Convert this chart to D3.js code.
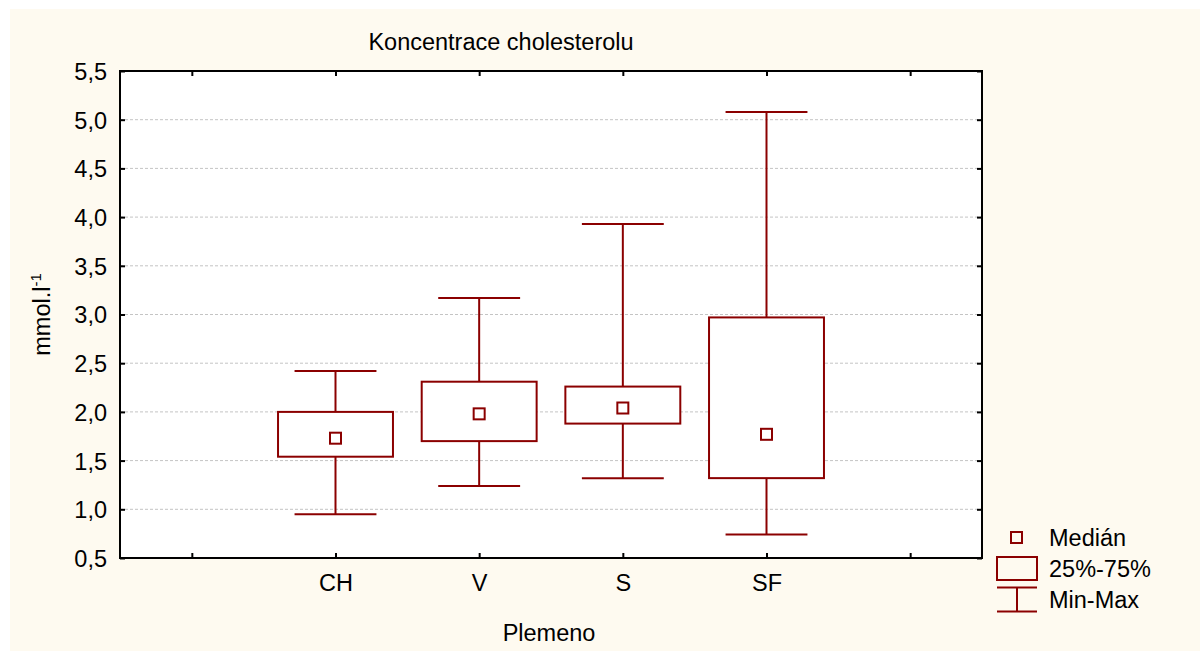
<!DOCTYPE html>
<html>
<head>
<meta charset="utf-8">
<script src="https://cdn.jsdelivr.net/npm/d3@7"></script>
<style>
  html, body { margin: 0; padding: 0; background: #ffffff; }
  svg { display: block; font-family: Arial, "Liberation Sans", sans-serif; }
</style>
</head>
<body>
<svg id="chart" width="1200" height="651"></svg>
<script>
// Cholesterol concentration by breed: min, quartiles, median, max (mmol/l)
const slots   = ["", "CH", "V", "S", "SF", ""];
const groups  = ["CH", "V", "S", "SF"];
const minVals = [0.95, 1.24, 1.32, 0.74];
const q1Vals  = [1.54, 1.70, 1.88, 1.32];
const medVals = [1.73, 1.98, 2.04, 1.77];
const q3Vals  = [2.00, 2.31, 2.26, 2.97];
const maxVals = [2.42, 3.17, 3.93, 5.08];
const yTicks  = [0.5, 1.0, 1.5, 2.0, 2.5, 3.0, 3.5, 4.0, 4.5, 5.0, 5.5];

const color = "#8b0000";
const svg = d3.select("#chart");

// panel background
svg.append("rect").attr("x", 10).attr("y", 9).attr("width", 1190).attr("height", 642)
  .attr("fill", "#fefaf0");

const plot = { left: 120, top: 71, right: 982, bottom: 558 };

const x = d3.scalePoint()
  .domain(d3.range(slots.length))
  .range([plot.left, plot.right])
  .padding(0.5);
const step = x.step();

const y = d3.scaleLinear().domain([0.5, 5.5]).range([plot.bottom, plot.top]);

svg.append("rect")
  .attr("x", plot.left).attr("y", plot.top)
  .attr("width", plot.right - plot.left).attr("height", plot.bottom - plot.top)
  .attr("fill", "#ffffff");

// dotted grid
svg.append("g").selectAll("line")
  .data(yTicks.filter(v => v > 0.5 && v < 5.5))
  .join("line")
  .attr("x1", plot.left).attr("x2", plot.right)
  .attr("y1", d => y(d)).attr("y2", d => y(d))
  .attr("stroke", "#c4c4c4").attr("stroke-width", 1)
  .attr("stroke-dasharray", "3,2");

const fmt = d => d3.format(".1f")(d).replace(".", ",");
const fontSize = 23.5;

// axes (ticks point inward)
const gLeft = svg.append("g").attr("transform", `translate(${plot.left},0)`)
  .call(d3.axisLeft(y).tickValues(yTicks).tickFormat(fmt).tickSizeInner(-5).tickSizeOuter(0).tickPadding(13));
const gRight = svg.append("g").attr("transform", `translate(${plot.right},0)`)
  .call(d3.axisRight(y).tickValues(yTicks).tickFormat("").tickSizeInner(-5).tickSizeOuter(0));
const gBottom = svg.append("g").attr("transform", `translate(0,${plot.bottom})`)
  .call(d3.axisBottom(x).tickFormat(i => slots[i]).tickSizeInner(-5).tickSizeOuter(0).tickPadding(16));
const gTop = svg.append("g").attr("transform", `translate(0,${plot.top})`)
  .call(d3.axisTop(x).tickFormat("").tickSizeInner(-5).tickSizeOuter(0));

[gLeft, gRight, gBottom, gTop].forEach(g => {
  g.select(".domain").remove();
  g.selectAll(".tick line").attr("stroke", "#000").attr("stroke-width", 2);
  g.selectAll(".tick text").attr("fill", "#000").attr("font-size", fontSize)
    .attr("font-family", "Arial, 'Liberation Sans', sans-serif");
});
gLeft.selectAll(".tick text").attr("dy", "0.36em");
gBottom.selectAll(".tick text").attr("dy", "0.71em");

// frame
svg.append("rect")
  .attr("x", plot.left).attr("y", plot.top)
  .attr("width", plot.right - plot.left).attr("height", plot.bottom - plot.top)
  .attr("fill", "none").attr("stroke", "#000").attr("stroke-width", 2);

// box plots
const boxW = step * 0.8;
const capW = step * 0.57;
const boxes = svg.append("g").selectAll("g")
  .data(groups.map((g, i) => ({ g, i: i + 1, min: minVals[i], q1: q1Vals[i], med: medVals[i], q3: q3Vals[i], max: maxVals[i] })))
  .join("g");

boxes.append("line")
  .attr("x1", d => x(d.i)).attr("x2", d => x(d.i))
  .attr("y1", d => y(d.max)).attr("y2", d => y(d.q3))
  .attr("stroke", color).attr("stroke-width", 2);
boxes.append("line")
  .attr("x1", d => x(d.i)).attr("x2", d => x(d.i))
  .attr("y1", d => y(d.q1)).attr("y2", d => y(d.min))
  .attr("stroke", color).attr("stroke-width", 2);
boxes.append("line")
  .attr("x1", d => x(d.i) - capW / 2).attr("x2", d => x(d.i) + capW / 2)
  .attr("y1", d => y(d.max)).attr("y2", d => y(d.max))
  .attr("stroke", color).attr("stroke-width", 2);
boxes.append("line")
  .attr("x1", d => x(d.i) - capW / 2).attr("x2", d => x(d.i) + capW / 2)
  .attr("y1", d => y(d.min)).attr("y2", d => y(d.min))
  .attr("stroke", color).attr("stroke-width", 2);
boxes.append("rect")
  .attr("x", d => x(d.i) - boxW / 2).attr("width", boxW)
  .attr("y", d => y(d.q3)).attr("height", d => y(d.q1) - y(d.q3))
  .attr("fill", "#ffffff").attr("stroke", color).attr("stroke-width", 2);
boxes.append("rect")
  .attr("x", d => x(d.i) - 5.5).attr("width", 11)
  .attr("y", d => y(d.med) - 5.5).attr("height", 11)
  .attr("fill", "#ffffff").attr("stroke", color).attr("stroke-width", 2);

// title
svg.append("text").attr("x", 501).attr("y", 50).attr("text-anchor", "middle")
  .attr("font-size", fontSize).attr("fill", "#000").text("Koncentrace cholesterolu");

// axis titles
svg.append("text").attr("x", 549).attr("y", 641).attr("text-anchor", "middle")
  .attr("font-size", fontSize).attr("fill", "#000").text("Plemeno");

const yl = svg.append("text")
  .attr("transform", `translate(50,${(plot.top + plot.bottom) / 2}) rotate(-90)`)
  .attr("text-anchor", "middle").attr("font-size", fontSize).attr("fill", "#000");
yl.append("tspan").text("mmol.l");
yl.append("tspan").attr("font-size", 15).attr("dy", -9).text("-1");

// legend
const lg = svg.append("g");
lg.append("rect").attr("x", 1011).attr("y", 532).attr("width", 11).attr("height", 11)
  .attr("fill", "none").attr("stroke", color).attr("stroke-width", 2);
lg.append("rect").attr("x", 997).attr("y", 557).attr("width", 40).attr("height", 23)
  .attr("fill", "none").attr("stroke", color).attr("stroke-width", 2);
lg.append("line").attr("x1", 997).attr("x2", 1037).attr("y1", 587.5).attr("y2", 587.5)
  .attr("stroke", color).attr("stroke-width", 2);
lg.append("line").attr("x1", 997).attr("x2", 1037).attr("y1", 611.5).attr("y2", 611.5)
  .attr("stroke", color).attr("stroke-width", 2);
lg.append("line").attr("x1", 1017).attr("x2", 1017).attr("y1", 587.5).attr("y2", 611.5)
  .attr("stroke", color).attr("stroke-width", 2);
const legendLabels = ["Medián", "25%-75%", "Min-Max"];
lg.selectAll("text.lab").data(legendLabels).join("text")
  .attr("class", "lab")
  .attr("x", 1049).attr("y", (d, i) => 546 + i * 31)
  .attr("font-size", fontSize).attr("fill", "#000").text(d => d);
</script>
</body>
</html>
